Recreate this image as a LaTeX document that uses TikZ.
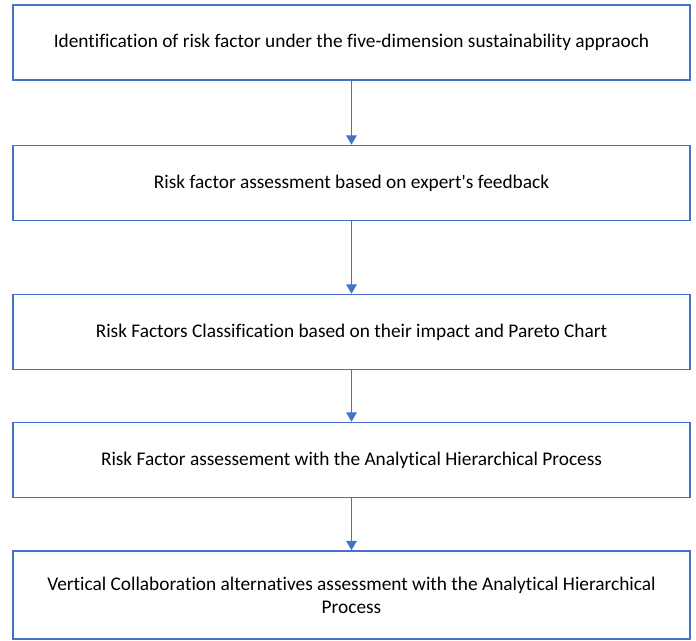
\documentclass[tikz,border=0pt]{standalone}
\usepackage{fontspec}
\setmainfont{Carlito}[Ligatures={TeXOff,NoCommon}]
\usepackage{xcolor}
\usetikzlibrary{arrows.meta,positioning}
\definecolor{officeblue}{HTML}{4472C4}

\begin{document}
\begin{tikzpicture}[
    x=0.75pt,y=-0.75pt,
    stage/.style={draw=officeblue, line width=1.2pt, align=center, minimum width=507.75pt,
                  minimum height=56.25pt, inner sep=2pt, font=\fontsize{14.5}{17.3}\selectfont},
    flow/.style={-{Triangle[length=7pt,width=8pt]}, draw=officeblue, line width=0.8pt}
]
\useasboundingbox (0,0) rectangle (696,641);

% Process stages
\node[stage] (ident) at (351.5,42.5) {Identification of risk factor under the five-dimension sustainability appraoch};
\node[stage] (expert) at (351.5,183) {Risk factor assessment based on expert's feedback};
\node[stage] (pareto) at (351.5,332) {Risk Factors Classification based on their impact and Pareto Chart};
\node[stage] (ahp) at (351.5,460) {Risk Factor assessement with the Analytical Hierarchical Process};
\node[stage, minimum height=66pt] (alt) at (351.5,595) {Vertical Collaboration alternatives assessment with the Analytical Hierarchical\\Process};

% Connectors
\draw[flow] (ident) -- (expert);
\draw[flow] (expert) -- (pareto);
\draw[flow] (pareto) -- (ahp);
\draw[flow] (ahp) -- (alt);
\end{tikzpicture}
\end{document}
